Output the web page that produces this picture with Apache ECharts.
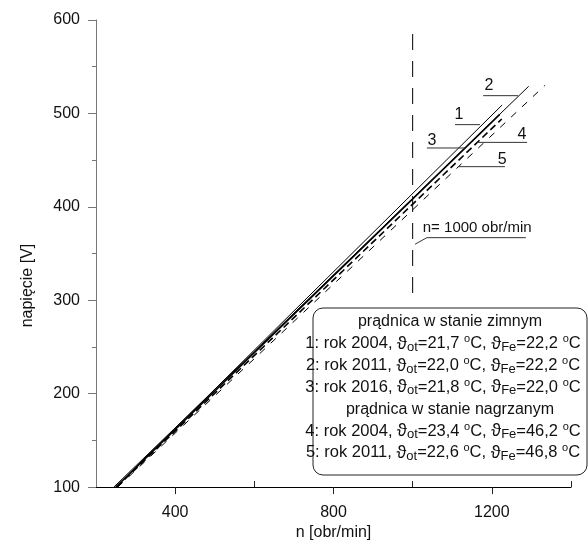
<!DOCTYPE html>
<html>
<head>
<meta charset="utf-8">
<title>napięcie prądnicy</title>
<script src="https://cdn.jsdelivr.net/npm/echarts@6/dist/echarts.min.js"></script>
<style>
  html, body { margin: 0; padding: 0; background: #fff; }
  #main { width: 588px; height: 546px; }
</style>
</head>
<body>
<div id="main"></div>
<script>
// charakterystyki: n [obr/min] i napięcie [V], początek i koniec prostej
var n1 = [250, 1226], u1 = [100, 509];
var n2 = [245, 1293], u2 = [100, 529];
var n3 = [250, 1220], u3 = [100, 499];
var n4 = [252, 1225], u4 = [100, 494];
var n5 = [255, 1334], u5 = [100, 530];

var xLabels = [400, 800, 1200];
var xMinor = [600, 1000, 1400];

// pionowa linia n = 1000 obr/min
var nRef = 1000;
var uRef = [585, 296];

// odnośniki: numer, n od, n do, U, n tekstu, U tekstu
var leaders = [
  ['1', 1107, 1170, 488, 1117, 499],
  ['2', 1178, 1266, 519, 1193, 530],
  ['3', 1036, 1132, 463, 1049, 471],
  ['4', 1163, 1289, 469, 1276, 477],
  ['5', 1115, 1233, 443, 1226, 451]
];
// odnośnik opisu n = 1000: punkty (n, U)
var refLeaderN = [1006, 1036, 1286];
var refLeaderU = [360, 367, 367];
var refText = 'n= 1000 obr/min';
var refTextPos = [1163, 377];

var legendRows = [
  ['title', 'prądnica w stanie zimnym'],
  ['1', '2004', '21,7', '22,2'],
  ['2', '2011', '22,0', '22,2'],
  ['3', '2016', '21,8', '22,0'],
  ['title', 'prądnica w stanie nagrzanym'],
  ['4', '2004', '23,4', '46,2'],
  ['5', '2011', '22,6', '46,8']
];

var FONT = '"Liberation Sans", Arial, sans-serif';

function pairs(ns, us) {
  return ns.map(function (n, i) { return [n, us[i]]; });
}

var chart = echarts.init(document.getElementById('main'));

var thin = { color: '#000', width: 1 };
chart.setOption({
  animation: false,
  textStyle: { fontFamily: FONT },
  grid: { left: 96, right: 17, top: 20, bottom: 52 },
  xAxis: [{
    type: 'value', min: 200, max: 1400,
    name: 'n [obr/min]', nameLocation: 'middle', nameGap: 36,
    nameTextStyle: { fontSize: 16, color: '#111', fontFamily: FONT },
    axisLine: { lineStyle: { color: '#000', width: 1 } },
    axisTick: { customValues: xLabels, length: 7, lineStyle: { color: '#222' } },
    axisLabel: { customValues: xLabels, margin: 17, fontSize: 16, color: '#111', fontFamily: FONT,
      formatter: function (v) { return String(v); } },
    splitLine: { show: false }
  }, {
    type: 'value', min: 200, max: 1400, position: 'bottom',
    axisLine: { show: false },
    axisTick: { customValues: xMinor, inside: true, length: 6, lineStyle: { color: '#222' } },
    axisLabel: { show: false },
    splitLine: { show: false }
  }],
  yAxis: {
    type: 'value', min: 100, max: 600, interval: 100,
    name: 'napięcie [V]', nameLocation: 'middle', nameGap: 60,
    nameTextStyle: { fontSize: 16, color: '#111', fontFamily: FONT, padding: [0, 64, 0, 0] },
    axisLine: { show: true, lineStyle: { color: '#777', width: 1 } },
    axisTick: { show: true, length: 8, lineStyle: { color: '#777' } },
    minorTick: { show: true, splitNumber: 2, length: 4, lineStyle: { color: '#777' } },
    axisLabel: { margin: 16, fontSize: 16, color: '#111', fontFamily: FONT },
    splitLine: { show: false }
  },
  series: [
    { name: '1', type: 'line', data: pairs(n1, u1), symbol: 'none', lineStyle: thin },
    { name: '2', type: 'line', data: pairs(n2, u2), symbol: 'none', lineStyle: thin },
    { name: '3', type: 'line', data: pairs(n3, u3), symbol: 'none', lineStyle: { color: '#000', width: 1.6 } },
    { name: '4', type: 'line', data: pairs(n4, u4), symbol: 'none', lineStyle: { color: '#000', width: 1.6, type: [7, 4] } },
    { name: '5', type: 'line', data: pairs(n5, u5), symbol: 'none', lineStyle: { color: '#000', width: 1, type: [7, 8] } },
    { name: 'ref', type: 'line', data: [[nRef, uRef[0]], [nRef, uRef[1]]], symbol: 'none', z: 1,
      lineStyle: { color: '#000', width: 1, type: [16, 11] } }
  ]
});

function px(n, u) { return chart.convertToPixel({ xAxisIndex: 0, yAxisIndex: 0 }, [n, u]); }

var graphics = [];
leaders.forEach(function (l) {
  var a = px(l[1], l[3]), b = px(l[2], l[3]), t = px(l[4], l[5]);
  graphics.push({ type: 'line', shape: { x1: a[0], y1: a[1], x2: b[0], y2: b[1] },
    style: { stroke: '#333', lineWidth: 1 }, z: 10 });
  graphics.push({ type: 'text', x: t[0], y: t[1], z: 10,
    style: { text: l[0], font: '16px ' + FONT, fill: '#111', align: 'center', verticalAlign: 'middle' } });
});
var refPts = refLeaderN.map(function (n, i) { return px(n, refLeaderU[i]); });
graphics.push({ type: 'polyline', shape: { points: refPts }, style: { stroke: '#333', lineWidth: 1, fill: null }, z: 10 });
var rt = px(refTextPos[0], refTextPos[1]);
graphics.push({ type: 'text', x: rt[0], y: rt[1], z: 10,
  style: { text: refText, font: '15px ' + FONT, fill: '#111', align: 'center', verticalAlign: 'middle' } });

// ramka opisu krzywych
graphics.push({ type: 'rect', shape: { x: 313, y: 308, width: 274, height: 167, r: 10 },
  style: { fill: '#fff', stroke: '#222', lineWidth: 1 }, z: 20 });
var rich = {
  th: { fontSize: 18, fontFamily: FONT, fill: '#111' },
  sub: { fontSize: 13, verticalAlign: 'bottom', lineHeight: 12, fontFamily: FONT, fill: '#111' },
  sup: { fontSize: 11, verticalAlign: 'top', lineHeight: 12, fontFamily: FONT, fill: '#111' }
};
legendRows.forEach(function (r, i) {
  var txt, title = r[0] === 'title';
  if (title) txt = r[1];
  else txt = r[0] + ': rok ' + r[1] + ', {th|ϑ}{sub|ot}=' + r[2] + ' {sup|o}C, {th|ϑ}{sub|Fe}=' + r[3] + ' {sup|o}C';
  graphics.push({ type: 'text', x: title ? 450 : 443, y: 322 + i * 21.8, z: 21,
    style: { text: txt, fontSize: title ? 16 : 16.5, fontFamily: FONT, fill: '#111', align: 'center',
      verticalAlign: 'middle', lineHeight: 20, rich: rich } });
});

chart.setOption({ graphic: graphics });
</script>
</body>
</html>
